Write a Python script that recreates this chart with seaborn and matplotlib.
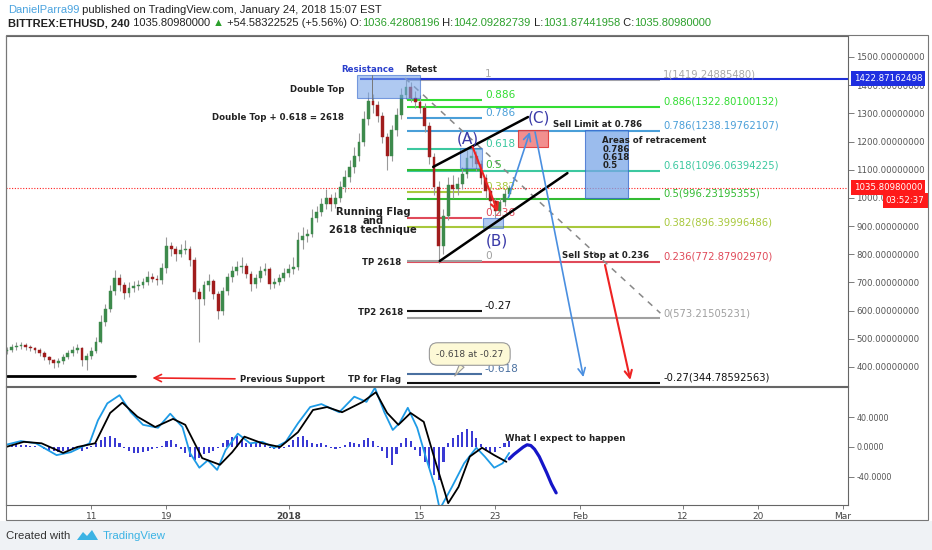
import numpy as np
import pandas as pd
import matplotlib
matplotlib.use('Agg')
import matplotlib.pyplot as plt
import matplotlib.patches as mpatches
import matplotlib.transforms as mtrans
from matplotlib import font_manager
import seaborn as sns

# ── price data: 12h candles of BITTREX:ETHUSD ──
first_open = 455
closes = [460, 470, 476, 478, 472, 466, 462, 450, 436, 424,
          414, 422, 435, 450, 462, 468, 425, 440, 455, 490,
          560, 605, 670, 715, 690, 662, 680, 688, 692, 700,
          720, 712, 708, 750, 828, 818, 800, 815, 820, 780,
          665, 640, 690, 705, 660, 598, 670, 718, 742, 755,
          760, 730, 695, 715, 740, 748, 695, 700, 716, 735,
          748, 755, 850, 866, 872, 930, 950, 978, 1000, 978,
          998, 1040, 1075, 1110, 1150, 1200, 1280, 1345, 1330, 1290,
          1215, 1150, 1240, 1295, 1365, 1392, 1355, 1340, 1318, 1255,
          1145, 1040, 830, 935, 1045, 1030, 1048, 1085, 1140, 1150,
          1120, 1070, 1025, 990, 955, 985, 1015, 1036]
highs = [472, 480, 488, 490, 485, 478, 470, 468, 455, 440,
         430, 432, 445, 462, 475, 480, 472, 450, 470, 505,
         585, 625, 690, 745, 730, 700, 700, 705, 710, 715,
         740, 735, 725, 770, 860, 845, 830, 835, 850, 830,
         790, 680, 705, 730, 712, 668, 685, 735, 760, 775,
         790, 770, 740, 730, 760, 770, 755, 715, 730, 750,
         765, 790, 880, 895, 890, 960, 970, 1000, 1030, 1015,
         1020, 1060, 1100, 1135, 1180, 1230, 1310, 1375, 1370, 1345,
         1305, 1230, 1260, 1320, 1390, 1422, 1410, 1380, 1365, 1335,
         1270, 1160, 1060, 960, 1075, 1080, 1075, 1110, 1170, 1185,
         1165, 1135, 1085, 1040, 1000, 1000, 1030, 1045]
lows = [445, 452, 462, 465, 462, 455, 448, 440, 425, 410,
        395, 400, 410, 428, 440, 450, 405, 389, 428, 448,
        485, 545, 595, 655, 670, 640, 648, 665, 672, 680,
        690, 700, 690, 695, 735, 795, 775, 790, 800, 760,
        640, 489, 620, 670, 640, 570, 585, 655, 700, 728,
        735, 715, 670, 680, 700, 725, 675, 680, 690, 705,
        720, 730, 745, 820, 845, 860, 915, 935, 960, 955,
        965, 985, 1020, 1055, 1090, 1130, 1185, 1260, 1300, 1270,
        1195, 1100, 1130, 1220, 1280, 1350, 1340, 1320, 1300, 1235,
        1120, 1010, 770, 800, 920, 1000, 1010, 1030, 1070, 1110,
        1095, 1050, 1000, 960, 930, 940, 970, 1005]

# histogram of the oscillator (one value per candle)
hist_vals = [2, 3, 4, 3, 3, 2, 1, 0, -3, -5,
             -6, -7, -5, -4, -3, -4, -5, -3, 2, 6,
             10, 14, 15, 12, 6, -2, -6, -8, -8, -7,
             -5, -3, -2, 2, 8, 10, 4, -3, -8, -13,
             -17, -15, -10, -8, -6, -2, 5, 10, 13, 15,
             9, 6, 4, 5, 6, 3, -1, -3, -3, -2,
             3, 9, 14, 15, 10, 6, 4, 5, 3, -1,
             -3, -2, 3, 7, 6, 4, 9, 12, 8, 2,
             -6, -15, -24, -10, 5, 12, 8, -4, -12, -20,
             -28, -38, -45, -20, 6, 12, 16, 20, 24, 22,
             12, 4, -5, -8, -7, -2, 5, 8]

# oscillator lines, (days from 2018-01-01, value)
macd_days = [-30.1, -28.5, -26.9, -24.7, -23.2, -21.2, -20.3, -19.3, -18.0, -16.8,
             -15.5, -13.9, -12.6, -11.3, -10.5, -9.5, -8.6, -7.6, -6.7, -5.4,
             -4.1, -2.8, -1.5, -0.3, 1.0, 2.3, 3.5, 5.4, 7.0, 8.3,
             9.2, 10.2, 11.1, 11.8, 12.7, 13.7, 14.6, 15.6, 16.1, 17.4,
             18.7, 20.0, 20.9, 21.9, 22.8, 23.5]
macd_vals = [3, 8, 5, -11, -7, 5, 36, 59, 70, 47,
             30, 26, 45, 27, -8, -28, -18, -31, -4, 18,
             5, 7, -1, 7, 32, 54, 58, 47, 68, 61,
             80, 47, 23, 32, 53, 26, -13, -54, -84, -54,
             -22, -1, -13, -28, -22, -8]
signal_days = [-30.1, -28.2, -26.3, -24.0, -22.5, -20.6, -19.0, -17.7, -16.1, -14.2,
               -12.3, -11.0, -9.2, -7.3, -6.0, -4.7, -2.8, -0.9, 1.0, 2.6,
               4.1, 5.7, 7.9, 9.3, 10.5, 11.7, 13.0, 14.4, 15.6, 17.0,
               18.1, 19.3, 20.6, 21.9, 23.2]
signal_vals = [0, 7, 5, -8, 0, 5, 46, 60, 41, 27,
               38, 30, -15, -24, -7, 14, 5, 0, 20, 50,
               54, 47, 61, 74, 46, 30, 46, 34, -18, -76,
               -54, -13, -1, -11, -20]
expect_days = [23.5, 24.0, 24.5, 25.0, 25.4, 25.8, 26.2, 26.7, 27.1, 27.5, 28.0, 28.5]
expect_vals = [-16, -10, -5, 0, 3, 2, -3, -13, -24, -35, -50, -62]

# fibonacci tools
left_fib_ratios = [1, 0.886, 0.786, 0.618, 0.5, 0.382, 0.236, 0, -0.27, -0.618]
left_fib_colors = ['#a8a8a8', '#33dd33', '#4a9fd8', '#3cc8a0', '#33bb33',
                   '#a8c83c', '#e04a5a', '#a0a0a0', '#111111', '#4a70a0']
left_fib_low, left_fib_high = 775, 1422
right_fib_ratios = [1, 0.886, 0.786, 0.618, 0.5, 0.382, 0.236, 0, -0.27]
right_fib_prices = [1419.24885480, 1322.80100132, 1238.19762107, 1096.06394225,
                    996.23195355, 896.39996486, 772.87902970, 573.21505231, 344.78592563]
right_fib_colors = ['#a8a8a8', '#33dd33', '#4a9fd8', '#3cc8a0', '#33bb33',
                    '#a8c83c', '#e04a5a', '#a0a0a0', '#111111']

last_price = 1035.80980000
resistance_price = 1422.87162498

x_tick_days = [-21, -13, 0, 14, 22, 31, 42, 50, 59]
x_tick_labels = ['11', '19', '2018', '15', '23', 'Feb', '12', '20', 'Mar']
price_ticks = list(range(400, 1600, 100))
osc_ticks = [-40, 0, 40]

# ── setup ──
sns.set_theme(style='white')
names = {f.name for f in font_manager.fontManager.ttflist}
narrow = 'Liberation Sans Narrow' if 'Liberation Sans Narrow' in names else 'Liberation Sans'
plt.rcParams['font.family'] = ['DejaVu Sans']

W, H = 932, 550
fig = plt.figure(figsize=(W / 100, H / 100), dpi=100)
fig.patch.set_facecolor('white')

ax1 = fig.add_axes([6 / W, 1 - 386 / H, 842 / W, 350 / H])
ax2 = fig.add_axes([6 / W, 1 - 505 / H, 842 / W, 118 / H])

bar_times = pd.date_range('2017-12-02', periods=len(closes), freq='12h')
bx = ((bar_times - pd.Timestamp('2018-01-01')) / pd.Timedelta(days=1)).to_numpy()
c = np.array(closes, dtype=float)
o = np.array([first_open] + closes[:-1], dtype=float)
up = c >= o
body_cols = np.where(up, '#3d8a4c', '#a01c1c')

# ── candles ──
ax1.vlines(bx, lows, highs, color='#9a9a9a', lw=0.8, zorder=2)
ax1.bar(bx, np.maximum(np.abs(c - o), 3), bottom=np.minimum(o, c), width=0.3,
        color=body_cols, edgecolor=body_cols, linewidth=0.3, zorder=3)

# ── fib lines ──
left_prices = [left_fib_low + r * (left_fib_high - left_fib_low) for r in left_fib_ratios]
ax1.hlines(right_fib_prices, 12.6, 39.6, colors=right_fib_colors, lw=1.5, zorder=1)
ax1.hlines(left_prices, 12.6, 20.6, colors=left_fib_colors, lw=1.5, zorder=1.5)
for r, p, col in zip(left_fib_ratios, left_prices, left_fib_colors):
    ax1.text(20.9, p, f'{r:g}', color=col, fontsize=7.6, va='bottom', ha='left', zorder=2)
for r, p, col in zip(right_fib_ratios, right_fib_prices, right_fib_colors):
    ax1.text(39.9, p, f'{r:g}({p:.8f})', color=col, fontsize=7.2, va='bottom', ha='left', zorder=2)

# resistance ray + last price
ax1.hlines(resistance_price, 7.6, 59.6, color='#1f2fd8', lw=1.5, zorder=1.6)
ax1.axhline(last_price, color='#ff2020', ls=(0, (1, 1.5)), lw=0.8, zorder=1)

# dashed diagonal
ax1.plot([12.4, 39.6], [1425, 591], color='#888888', ls=(0, (4, 4)), lw=1.1, zorder=2)

# flag channel
ax1.plot([15.4, 25.5], [1110, 1287], color='black', lw=1.8, zorder=5)
ax1.plot([16.1, 29.7], [776, 1088], color='black', lw=1.8, zorder=5)

# previous support
ax1.plot([-30.0, -16.3], [368, 368], color='black', lw=2, zorder=4)

# boxes
def box(x0, x1, p0, p1, fc, ec, alpha=0.6):
    ax1.add_patch(mpatches.Rectangle((x0, p0), x1 - x0, p1 - p0, fc=fc, ec=ec,
                                     lw=0.8, alpha=alpha, zorder=4))

box(7.3, 14.0, 1354, 1436, '#7aa6e8', '#3366cc')
box(18.3, 20.6, 1106, 1177, '#7aa6e8', '#3366cc')
box(20.7, 22.8, 893, 929, '#7aa6e8', '#3366cc')
box(31.6, 36.1, 1000, 1241, '#7aa6e8', '#3366cc', 0.75)
box(24.4, 27.6, 1181, 1241, '#f07b7b', '#e03030', 0.85)
ax1.plot([8.9, 8.9], [1436, 1347], color='#777777', lw=0.7, zorder=5)

# arrows
def arrow(tail, tip, color, lw=1.2):
    ax1.annotate('', xy=tip, xytext=tail, zorder=5,
                 arrowprops=dict(arrowstyle='->', color=color, lw=lw,
                                 mutation_scale=13, shrinkA=0, shrinkB=0))

arrow((23.4, 1000), (25.7, 1234), '#4a8fe0')
arrow((26.25, 1234), (31.4, 364), '#4a8fe0')
arrow((19.6, 1181), (22.3, 950), '#ee2222', 1.5)
arrow((33.7, 762), (36.4, 354), '#ee2222', 1.5)
arrow((-5.7, 358), (-14.5, 361), '#ee2222', 1.2)

# ── text notes ──
def note(x, y, s, size=6.2, color='#222222', ha='left', weight='bold', ax=ax1):
    return ax.text(x, y, s, fontsize=size, color=color, ha=ha, va='center',
                   fontweight=weight, zorder=7)

note(8.4, 1457, 'Resistance', color='#2a3fcc', ha='center')
note(14.1, 1457, 'Retest', ha='center')
note(3.1, 1386, 'Double Top', ha='center')
note(-1.1, 1287, 'Double Top + 0.618 = 2618', ha='center')
note(9.0, 950, 'Running Flag', size=7.2, ha='center')
note(9.0, 918, 'and', size=7.2, ha='center')
note(9.0, 886, '2618 technique', size=7.2, ha='center')
note(19.1, 1209, '(A)', size=11, color='#3a3aa8', weight='normal', ha='center')
note(22.15, 847, '(B)', size=11, color='#3a3aa8', weight='normal', ha='center')
note(26.7, 1283, '(C)', size=11, color='#3a3aa8', weight='normal', ha='center')
note(28.2, 1259, 'Sell Limit at 0.786')
note(33.4, 1202, 'Areas of retracement')
note(33.4, 1172, '0.786')
note(33.4, 1143, '0.618')
note(33.4, 1115, '0.5')
note(29.1, 794, 'Sell Stop at 0.236')
note(12.0, 769, 'TP 2618', ha='right')
note(12.2, 595, 'TP2 2618', ha='right')
note(12.0, 357, 'TP for Flag', ha='right')
note(-5.2, 354, 'Previous Support')

ax1.annotate('-0.618 at -0.27', xy=(17.7, 368), xytext=(19.3, 446), ha='center', va='center',
             fontsize=6.5, color='#444444', zorder=7,
             bbox=dict(boxstyle='round,pad=0.75,rounding_size=0.9', fc='#fdf9d6', ec='#999999', lw=0.8),
             arrowprops=dict(arrowstyle='wedge,tail_width=0.6', fc='#fdf9d6', ec='#999999',
                             lw=0.8, shrinkA=0, shrinkB=0))

# price labels on the right scale
tr = mtrans.blended_transform_factory(ax1.transAxes, ax1.transData)
ax1.text(1.0071, resistance_price, f'{resistance_price:.8f}', transform=tr, fontsize=6.2,
         color='white', va='center', ha='left', clip_on=False, zorder=8,
         bbox=dict(boxstyle='square,pad=0.35', fc='#1f2fe0', ec='none'))
ax1.text(1.0071, last_price, f'{last_price:.8f}', transform=tr, fontsize=6.2,
         color='white', va='center', ha='left', clip_on=False, zorder=8,
         bbox=dict(boxstyle='square,pad=0.35', fc='#ff1a1a', ec='none'))
ax1.text(1.091, last_price - 44, '03:52:37', transform=tr, fontsize=6.2,
         color='white', va='center', ha='right', clip_on=False, zorder=8,
         bbox=dict(boxstyle='square,pad=0.35', fc='#ff1a1a', ec='none'))

# ── oscillator panel ──
ax2.bar(bx, hist_vals, width=0.22, color='#3a3ad4', lw=0, zorder=1)
sns.lineplot(x=macd_days, y=macd_vals, ax=ax2, color='#1e9be6', lw=1.3, zorder=2)
sns.lineplot(x=signal_days, y=signal_vals, ax=ax2, color='black', lw=1.3, zorder=3)
sns.lineplot(x=expect_days, y=expect_vals, ax=ax2, color='#1515c8', lw=2.3, zorder=3)
note(23.05, 12, 'What I expect to happen', ax=ax2)

# ── axes styling ──
for ax in (ax1, ax2):
    ax.set_xlim(-30.09, 59.58)
    ax.set_facecolor('white')
    for s in ax.spines.values():
        s.set_color('#666666')
        s.set_linewidth(0.8)
    ax.yaxis.tick_right()
    ax.tick_params(axis='y', direction='out', length=4, width=0.6, color='#666666',
                   labelsize=6.2, labelcolor='#555555', pad=2, right=True, left=False)
    ax.set_xlabel('')
    ax.set_ylabel('')

ax1.set_ylim(332.5, 1574.5)
ax1.set_yticks(price_ticks)
ax1.set_yticklabels([f'{v:.8f}' for v in price_ticks])
ax1.tick_params(axis='x', bottom=False, labelbottom=False)

ax2.set_ylim(-78.4, 81.1)
ax2.set_yticks(osc_ticks)
ax2.set_yticklabels([f'{v:.4f}' for v in osc_ticks])
ax2.tick_params(axis='y', labelsize=5.8)
ax2.set_xticks(x_tick_days)
ax2.set_xticklabels(x_tick_labels)
ax2.tick_params(axis='x', bottom=True, direction='out', length=3, width=0.6, color='#666666',
                labelsize=6.5, labelcolor='#444444', pad=2)
ax2.get_xticklabels()[2].set_fontweight('bold')

# outer frame and footer
fig.add_artist(mpatches.Rectangle((6 / W, 1 - 520 / H), 922 / W, 485 / H, transform=fig.transFigure,
                                  fill=False, ec='#777777', lw=0.8))
fig.patches.append(mpatches.Rectangle((0, 0), 1, 29 / H, transform=fig.transFigure,
                                      fc='#eff2f5', ec='none', zorder=-5))

# header rows, pieces laid one after another
renderer = fig.canvas.get_renderer()

def write_row(y_px, pieces, size, x_px=8):
    for s, col, weight in pieces:
        t = fig.text(x_px / W, 1 - y_px / H, s, color=col, fontsize=size, fontweight=weight,
                     family=[narrow, 'DejaVu Sans'], va='center', ha='left')
        x_px += t.get_window_extent(renderer).width

green = '#2ca02c'
dark = '#222222'
write_row(10, [('DanielParra99', '#4aa3df', 'normal'),
               (' published on TradingView.com, January 24, 2018 15:07 EST', dark, 'normal')], 8.0)
write_row(23, [('BITTREX:ETHUSD, 240', dark, 'bold'), (' 1035.80980000 ', dark, 'normal'),
               ('▲', green, 'normal'), (' +54.58322525 (+5.56%) O:', dark, 'normal'),
               ('1036.42808196', green, 'normal'), (' H:', dark, 'normal'),
               ('1042.09282739', green, 'normal'), (' L:', dark, 'normal'),
               ('1031.87441958', green, 'normal'), (' C:', dark, 'normal'),
               ('1035.80980000', green, 'normal')], 8.0)

# footer
fig.text(6 / W, 1 - 536 / H, 'Created with', fontsize=8.2, color='#333333', va='center',
         family=[narrow, 'DejaVu Sans'])
logo = [(77, 540), (83, 532), (87, 536), (92, 530), (98, 540)]
fig.add_artist(mpatches.Polygon([(px / W, 1 - py / H) for px, py in logo], closed=True,
                                transform=fig.transFigure, fc='#3bb3e4', ec='none'))
fig.text(103 / W, 1 - 536 / H, 'TradingView', fontsize=8.2, color='#3bb3e4', va='center',
         family=[narrow, 'DejaVu Sans'])

fig.savefig('out.png', dpi=100)
